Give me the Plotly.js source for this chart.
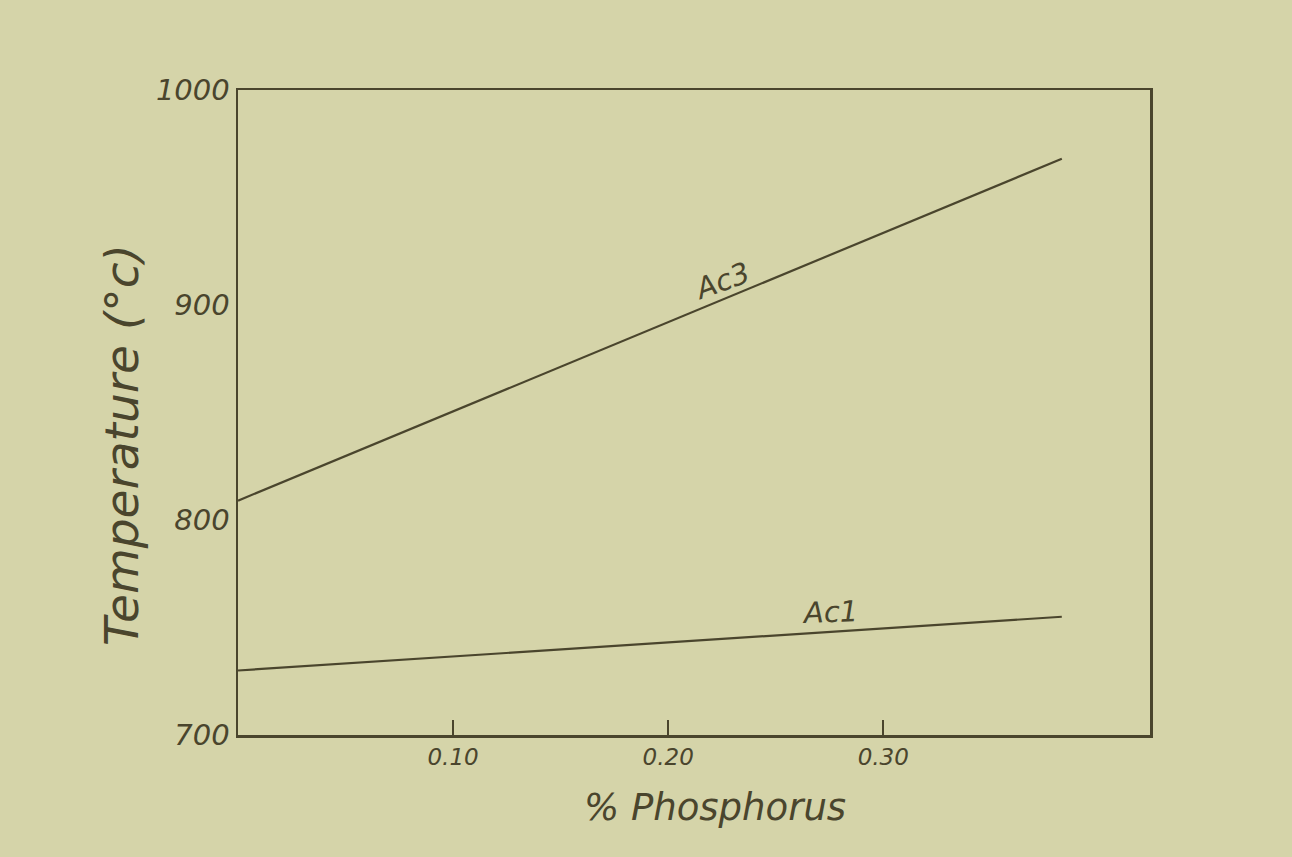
<!DOCTYPE html>
<html>
<head>
<meta charset="utf-8">
<script src="https://cdn.plot.ly/plotly-3.0.1.min.js"></script>
<style>
  html, body { margin: 0; padding: 0; background: #d5d4a9; }
  #chart { width: 1292px; height: 857px; }
</style>
</head>
<body>
<div id="chart"></div>
<script>
// Data
const phosphorus = [0.0, 0.383];
const ac3Temp = [809, 968];
const ac1Temp = [730, 755];
const xTickVals = [0.10, 0.20, 0.30];
const xTickText = ['0.10', '0.20', '0.30'];
const yTickVals = [700, 800, 900, 1000];
const yTickText = ['700', '800', '900', '1000'];

const ink = '#4a452d';
const paper = '#d5d4a9';
const handFont = 'DejaVu Sans, sans-serif';

const traces = [
  { x: phosphorus, y: ac3Temp, mode: 'lines', name: 'Ac3',
    line: { color: ink, width: 2.2 }, hoverinfo: 'skip' },
  { x: phosphorus, y: ac1Temp, mode: 'lines', name: 'Ac1',
    line: { color: ink, width: 2.2 }, hoverinfo: 'skip' }
];

const layout = {
  width: 1292, height: 857,
  paper_bgcolor: paper, plot_bgcolor: paper,
  margin: { l: 238, r: 142, t: 90, b: 122 },
  showlegend: false,
  xaxis: {
    range: [0, 0.424],
    showgrid: false, zeroline: false,
    showline: true, linecolor: ink, linewidth: 2.5, mirror: true,
    ticks: 'inside', ticklen: 15, tickwidth: 2, tickcolor: ink,
    tickvals: xTickVals, ticktext: xTickText,
    tickfont: { family: handFont, size: 23, color: ink, style: 'italic' }
  },
  yaxis: {
    range: [700, 1000],
    showgrid: false, zeroline: false,
    showline: true, linecolor: ink, linewidth: 2.5, mirror: true,
    ticks: '', tickvals: yTickVals, ticktext: yTickText,
    tickfont: { family: handFont, size: 29, color: ink, style: 'italic' }
  },
  annotations: [
    { x: 0.523, y: -0.113, xref: 'paper', yref: 'paper', text: '% Phosphorus',
      showarrow: false, xanchor: 'center', yanchor: 'middle',
      font: { family: handFont, size: 37, color: ink, style: 'italic' } },
    { x: -0.127, y: 0.45, xref: 'paper', yref: 'paper', text: 'Temperature (°c)',
      showarrow: false, textangle: -90, xanchor: 'center', yanchor: 'middle',
      font: { family: handFont, size: 47, color: ink, style: 'italic' } },
    { x: 0.225, y: 911, xref: 'x', yref: 'y', text: 'Ac3', showarrow: false,
      textangle: -20, font: { family: handFont, size: 29, color: ink, style: 'italic' } },
    { x: 0.275, y: 757, xref: 'x', yref: 'y', text: 'Ac1', showarrow: false,
      textangle: -2, font: { family: handFont, size: 29, color: ink, style: 'italic' } }
  ]
};

Plotly.newPlot('chart', traces, layout, { displayModeBar: false, staticPlot: true });
</script>
</body>
</html>
